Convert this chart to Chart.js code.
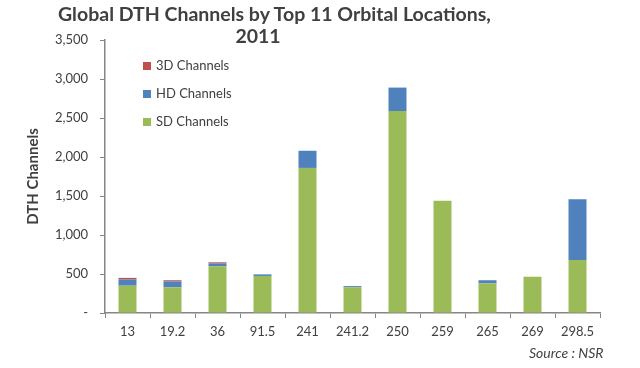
<!DOCTYPE html>
<html>
<head>
<meta charset="utf-8">
<script src="https://cdn.jsdelivr.net/npm/chart.js@4/dist/chart.umd.min.js"></script>
<style>
  html, body { margin: 0; padding: 0; background: #fff; }
  #wrap { position: relative; width: 640px; height: 368px; font-family: Lato, "Open Sans", sans-serif; color: #404040; }
  #chart { position: absolute; left: 0; top: 0; }
  .title { position: absolute; left: 58px; width: 400px; text-align: center; font-weight: bold; font-size: 19.5px; white-space: nowrap; }
  #legend { position: absolute; left: 143px; top: 58px; font-size: 13px; color: #404040; }
  #legend div { height: 28px; line-height: 14px; }
  #legend span.box { display: inline-block; width: 8px; height: 8px; margin-right: 5px; vertical-align: 0px; }
  #source { position: absolute; left: 529px; top: 344px; font-style: italic; font-size: 14px; color: #404040; }
</style>
</head>
<body>
<div id="wrap">
  <canvas id="chart" width="640" height="368"></canvas>
  <div class="title" style="top:2px">Global DTH Channels by Top 11 Orbital Locations,</div>
  <div class="title" style="top:24px">2011</div>
  <div id="legend"></div>
  <div id="source">Source : NSR</div>
</div>
<script>
// Datos
const locations = ['13', '19.2', '36', '91.5', '241', '241.2', '250', '259', '265', '269', '298.5'];
const sdChannels = [350, 330, 600, 475, 1860, 330, 2590, 1440, 380, 465, 680];
const hdChannels = [80, 75, 35, 20, 220, 15, 300, 0, 40, 0, 778];
const threeDChannels = [20, 15, 15, 0, 0, 0, 0, 0, 0, 0, 0];
const yTicks = [0, 500, 1000, 1500, 2000, 2500, 3000, 3500];

const seriesNames = ['SD Channels', 'HD Channels', '3D Channels'];
const seriesColors = ['#9BBB59', '#4F81BD', '#C0504D'];

// Leyenda en orden inverso (3D arriba)
function buildLegend() {
  const legend = document.getElementById('legend');
  for (let i = seriesNames.length - 1; i >= 0; i--) {
    legend.innerHTML += `<div><span class="box" style="background:${seriesColors[i]}"></span>${seriesNames[i]}</div>`;
  }
}

function createChart() {
  const ctx = document.getElementById('chart').getContext('2d');
  const allSeries = [sdChannels, hdChannels, threeDChannels];
  new Chart(ctx, {
    type: 'bar',
    data: {
      labels: locations,
      datasets: allSeries.map((values, i) => ({
        label: seriesNames[i],
        data: values,
        backgroundColor: seriesColors[i],
        categoryPercentage: 1,
        barPercentage: 0.4
      }))
    },
    options: {
      responsive: false,
      animation: false,
      layout: { padding: { left: 24, top: 40, right: 40, bottom: 0 } },
      plugins: { legend: { display: false }, tooltip: { enabled: false } },
      scales: {
        x: {
          stacked: true,
          grid: { display: true, drawOnChartArea: false, offset: true, color: '#868686', tickLength: 5 },
          border: { color: '#868686', width: 1.5 },
          ticks: { color: '#404040', font: { family: 'Lato', size: 13 }, padding: 6 },
          afterFit: (scale) => { scale.height = 55; }
        },
        y: {
          stacked: true,
          min: 0,
          max: 3500,
          afterBuildTicks: (scale) => { scale.ticks = yTicks.map(v => ({ value: v })); },
          grid: { display: true, drawOnChartArea: false, color: '#868686', tickLength: 5 },
          border: { color: '#868686', width: 1.5 },
          ticks: {
            color: '#404040',
            font: { family: 'Lato', size: 13 },
            padding: 12,
            callback: (v) => v === 0 ? '-' : v.toLocaleString('en-US')
          },
          title: { display: true, text: 'DTH Channels', color: '#404040', font: { family: 'Lato', size: 15, weight: 'bold' }, padding: { top: 0, bottom: 0 } },
          afterFit: (scale) => { scale.width = 81; }
        }
      }
    }
  });
}

document.addEventListener('DOMContentLoaded', function() {
  buildLegend();
  createChart();
});
</script>
</body>
</html>
